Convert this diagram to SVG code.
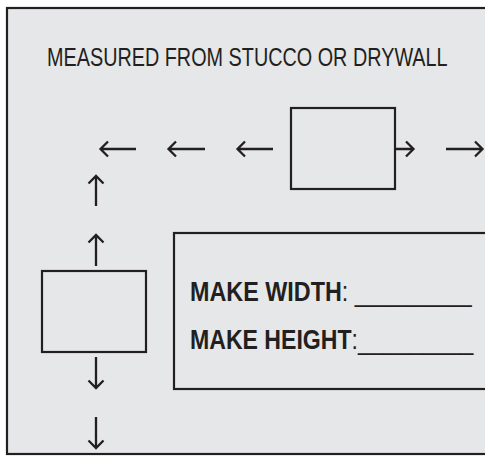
<svg xmlns="http://www.w3.org/2000/svg" width="485" height="456" viewBox="0 0 485 456">
<style>
.box{fill:none;stroke:#231f20;stroke-width:2.2}
.arr{fill:none;stroke:#231f20;stroke-width:2.3;stroke-linecap:butt;stroke-linejoin:miter}
.t{font-family:"Liberation Sans",Arial,sans-serif;fill:#231f20}
.b{font-weight:bold}
.n{font-weight:normal}
</style>
<rect x="0" y="0" width="485" height="456" fill="#ffffff"/>
<g id="frame">
<rect x="7" y="8" width="490" height="446" fill="#e6e7e8" stroke="#231f20" stroke-width="2.2"/>
</g>
<g id="title">
<text class="t" font-size="26" transform="translate(47 65.5) scale(0.762 1)">MEASURED FROM STUCCO OR DRYWALL</text>
</g>
<g id="top-box">
<rect class="box" x="291" y="108" width="104" height="81"/>
</g>
<g id="left-box">
<rect class="box" x="42" y="271" width="104" height="81"/>
</g>
<g id="form-box">
<rect class="box" x="174" y="233" width="320" height="156"/>
<text class="t b" font-size="28.5" transform="translate(190 300.5) scale(0.82 1)">MAKE WIDTH<tspan class="n">: _________</tspan></text>
<text class="t b" font-size="28.5" transform="translate(190 348.5) scale(0.81 1)">MAKE HEIGHT<tspan class="n">:_________</tspan></text>
</g>
<g id="connectors">
<path class="arr" d="M101 149H136M108 141.5L100.5 149L108 156.5"/>
<path class="arr" d="M169 149H205M176 141.5L168.5 149L176 156.5"/>
<path class="arr" d="M238 149H273M245 141.5L237.5 149L245 156.5"/>
<path class="arr" d="M395 149H413M406 141.5L413.5 149L406 156.5"/>
<path class="arr" d="M446 149H482M475 141.5L482.5 149L475 156.5"/>
<path class="arr" d="M96 176V206M88.5 183.5L96 176L103.5 183.5"/>
<path class="arr" d="M96 235V266M88.5 242.5L96 235L103.5 242.5"/>
<path class="arr" d="M96 357V388M88.5 380.5L96 388L103.5 380.5"/>
<path class="arr" d="M96 417V448M88.5 440.5L96 448L103.5 440.5"/>
</g>
</svg>
